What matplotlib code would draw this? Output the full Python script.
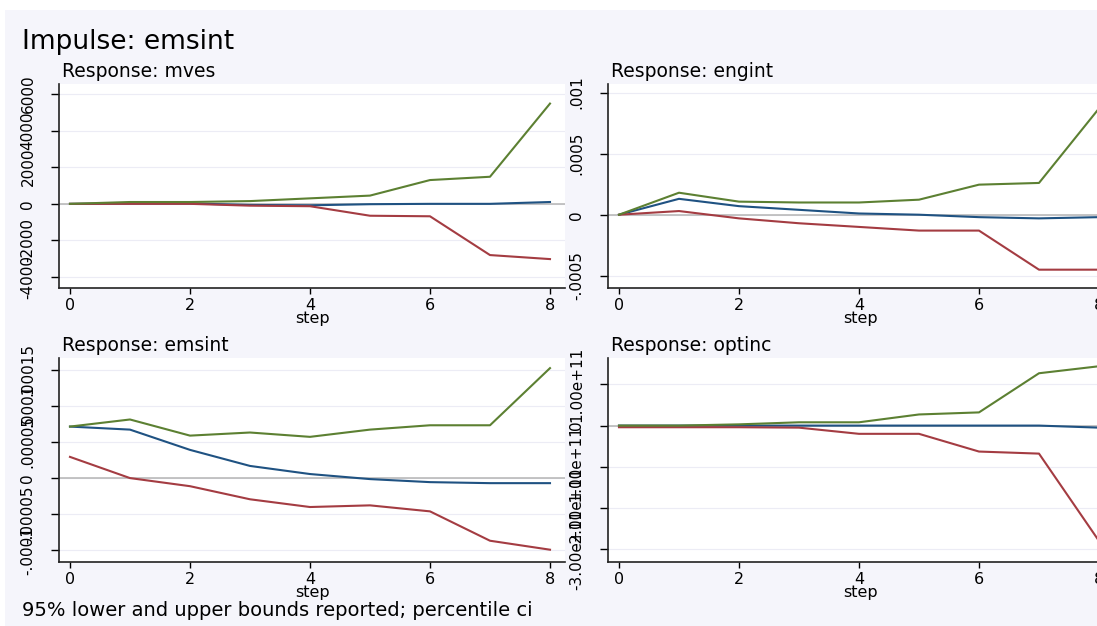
import matplotlib
matplotlib.use('Agg')
import matplotlib.pyplot as plt
from matplotlib.patches import Rectangle

# irf results, impulse emsint, steps 0..8
steps = [0, 1, 2, 3, 4, 5, 6, 7, 8]

mves_irf = [0, 20, 20, -60, -80, -20, 0, 0, 100]
mves_lo = [0, 0, 0, -100, -130, -650, -680, -2800, -3020]
mves_hi = [0, 100, 100, 150, 300, 450, 1300, 1480, 5480]

engint_irf = [0, .00013, .00007, .00004, .00001, 0, -.00002, -.00003, -.00002]
engint_lo = [0, .00003, -.00003, -.00007, -.0001, -.00013, -.00013, -.00045, -.00045]
engint_hi = [0, .00018, .000107, .0001, .0001, .000123, .000246, .00026, .00087]

emsint_irf = [.0000712, .000067, .000039, .0000168, .0000056, -.0000014, -.0000056, -.000007, -.000007]
emsint_lo = [.0000293, 0, -.0000112, -.0000293, -.00004, -.0000377, -.000046, -.0000866, -.000099]
emsint_hi = [.0000712, .000081, .0000587, .000063, .000057, .000067, .000073, .000073, .000152]

optinc_irf = [0, 0, 0, 0, 0, 0, 0, 0, -0.05e11]
optinc_lo = [-0.04e11, -0.04e11, -0.04e11, -0.05e11, -0.2e11, -0.2e11, -0.63e11, -0.68e11, -2.8e11]
optinc_hi = [0, 0, 0.03e11, 0.08e11, 0.08e11, 0.27e11, 0.32e11, 1.27e11, 1.44e11]

xticks = [0, 2, 4, 6, 8]
mves_ticks = [-4000, -2000, 0, 2000, 4000, 6000]
mves_labels = ['-4000', '-2000', '0', '2000', '4000', '6000']
engint_ticks = [-.0005, 0, .0005, .001]
engint_labels = ['-.0005', '0', '.0005', '.001']
emsint_ticks = [-.0001, -.00005, 0, .00005, .0001, .00015]
emsint_labels = ['-.0001', '-.00005', '0', '.00005', '.0001', '.00015']
optinc_ticks = [-3e11, -2e11, -1e11, 0, 1e11]
optinc_labels = ['-3.00e+11', '-2.00e+11', '-1.00e+11', '0', '1.00e+11']

navy = '#1f5282'
maroon = '#a43c42'
green = '#5c8032'
bg = '#f5f5fb'

W, H = 1097, 626
fig = plt.figure(figsize=(W / 100, H / 100), dpi=100, facecolor='white')
# stata graph region (light lavender), small white margin at top/left
fig.patches.append(Rectangle((5 / W, 0), 1, 1 - 10 / H, transform=fig.transFigure,
                             facecolor=bg, edgecolor='none', zorder=-10))


def panel(left, top, title, irf, lo, hi, ylim, ticks, labels):
    # left/top in pixels, plot area 506 x 204
    ax = fig.add_axes([left / W, 1 - (top + 204) / H, 506 / W, 204 / H], facecolor='white')
    ax.axhline(0, color='#b4b4b4', lw=1.1, zorder=1)
    ax.plot(steps, irf, color=navy, lw=1.5, zorder=3)
    ax.plot(steps, lo, color=maroon, lw=1.5, zorder=3)
    ax.plot(steps, hi, color=green, lw=1.5, zorder=3)
    ax.set_xlim(-0.183, 8.25)
    ax.set_ylim(ylim)
    ax.set_xticks(xticks)
    ax.set_yticks(ticks)
    ax.set_yticklabels(labels, rotation=90, va='center')
    ax.grid(axis='y', color='#ececf5', lw=0.8, zorder=0)
    ax.set_axisbelow(True)
    for s in ['top', 'right']:
        ax.spines[s].set_visible(False)
    for s in ['left', 'bottom']:
        ax.spines[s].set_linewidth(1.2)
        ax.spines[s].set_color('#222222')
    ax.tick_params(axis='y', direction='out', length=6, width=1, pad=11, labelsize=11)
    ax.tick_params(axis='x', direction='out', length=4, width=1, pad=3, labelsize=11.5)
    ax.set_xlabel('step', fontsize=11.5, labelpad=-1)
    ax.set_title(title, loc='left', fontsize=13.5, pad=5, x=0.006)
    return ax


panel(59, 84, 'Response: mves', mves_irf, mves_lo, mves_hi, (-4600, 6550), mves_ticks, mves_labels)
panel(608, 84, 'Response: engint', engint_irf, engint_lo, engint_hi, (-0.0006, 0.00107), engint_ticks, engint_labels)
panel(59, 358, 'Response: emsint', emsint_irf, emsint_lo, emsint_hi, (-0.000116, 0.000166), emsint_ticks, emsint_labels)
panel(608, 358, 'Response: optinc', optinc_irf, optinc_lo, optinc_hi, (-3.31e11, 1.64e11), optinc_ticks, optinc_labels)

fig.text(22 / W, 1 - 42 / H, 'Impulse: emsint', fontsize=19, ha='left', va='center')
fig.text(22 / W, 1 - 611 / H, '95% lower and upper bounds reported; percentile ci',
         fontsize=14, ha='left', va='center')

fig.savefig('out.png', dpi=100, facecolor=fig.get_facecolor())
